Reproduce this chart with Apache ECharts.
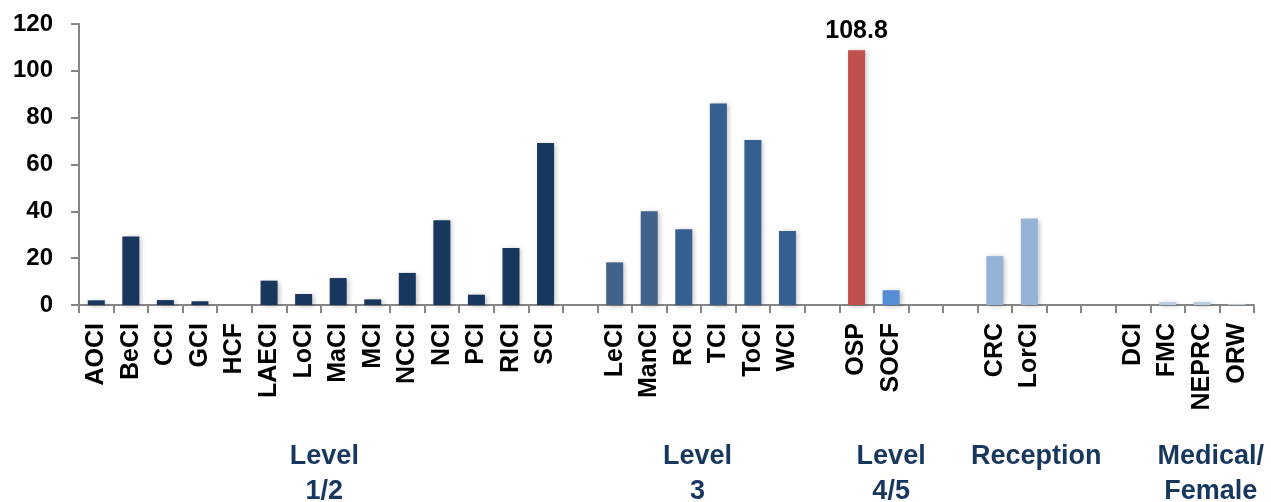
<!DOCTYPE html>
<html>
<head>
<meta charset="utf-8">
<title>Facility values by security level</title>
<script src="https://cdn.jsdelivr.net/npm/echarts@6/dist/echarts.min.js"></script>
<style>
  html, body { margin: 0; padding: 0; background: #ffffff; }
  #chart { width: 1271px; height: 502px; }
</style>
</head>
<body>
<div id="chart"></div>
<script>
// Facilities along the x axis; names starting with "_" are empty spacer slots between groups
const categories = [
  'AOCI', 'BeCI', 'CCI', 'GCI', 'HCF', 'LAECI', 'LoCI', 'MaCI', 'MCI', 'NCCI', 'NCI', 'PCI', 'RICI', 'SCI',
  '_a',
  'LeCI', 'ManCI', 'RCI', 'TCI', 'ToCI', 'WCI',
  '_b',
  'OSP', 'SOCF',
  '_c', '_d',
  'CRC', 'LorCI',
  '_e', '_f',
  'DCI', 'FMC', 'NEPRC', 'ORW'
];

const values = [
  2.0, 29.3, 2.1, 1.6, 0, 10.4, 4.7, 11.5, 2.4, 13.7, 36.2, 4.4, 24.3, 69.2,
  null,
  18.2, 40.0, 32.4, 86.1, 70.5, 31.6,
  null,
  108.8, 6.3,
  null, null,
  20.9, 36.9,
  null, null,
  0, 1.3, 1.3, 0.3
];

const barColors = [
  '#17375E', '#17375E', '#17375E', '#17375E', '#17375E', '#17375E', '#17375E',
  '#17375E', '#17375E', '#17375E', '#17375E', '#17375E', '#17375E', '#17375E',
  null,
  '#41628B', '#41628B', '#365F91', '#365F91', '#365F91', '#365F91',
  null,
  '#C0504D', '#558ED5',
  null, null,
  '#95B3D7', '#95B3D7',
  null, null,
  '#B9CDE5', '#B9CDE5', '#B9CDE5', '#D6E1EF'
];

// The one bar whose value is printed above it
const labelledBar = 'OSP';

// Group captions under the axis, anchored in category-slot units
const groupNames = ['Level\n1/2', 'Level\n3', 'Level\n4/5', 'Reception', 'Medical/\nFemale'];
const groupAnchors = [6.6, 17.4, 23.0, 27.2, 32.25];

const yTicks = { min: 0, max: 120, interval: 20 };

const FONT = '"Liberation Sans", Arial, sans-serif';
const AXIS_GREY = '#868686';

const seriesData = values.map(function (v, i) {
  if (v === null) return '-';
  const item = {
    value: v,
    itemStyle: { color: barColors[i] }
  };
  if (v === 0) {
    item.itemStyle.opacity = 0;
  }
  if (categories[i] === labelledBar) {
    item.label = {
      show: true,
      position: 'top',
      distance: 7,
      formatter: function (p) { return p.value.toFixed(1); },
      color: '#000000',
      fontFamily: FONT,
      fontWeight: 'bold',
      fontSize: 25
    };
  }
  return item;
});

const chart = echarts.init(document.getElementById('chart'), null, { renderer: 'canvas' });

chart.setOption({
  animation: false,
  backgroundColor: '#ffffff',
  grid: { left: 79, right: 17, top: 24, bottom: 197, containLabel: false },
  xAxis: {
    type: 'category',
    data: categories,
    boundaryGap: true,
    axisLine: { show: true, lineStyle: { color: AXIS_GREY, width: 2 } },
    axisTick: { show: true, interval: 0, length: 8, lineStyle: { color: AXIS_GREY, width: 2 } },
    axisLabel: {
      interval: 0,
      rotate: 90,
      margin: 18,
      color: '#000000',
      fontFamily: FONT,
      fontWeight: 'bold',
      fontSize: 25,
      formatter: function (name) { return name.charAt(0) === '_' ? '' : name; }
    },
    splitLine: { show: false }
  },
  yAxis: {
    type: 'value',
    min: yTicks.min,
    max: yTicks.max,
    interval: yTicks.interval,
    axisLine: { show: true, lineStyle: { color: AXIS_GREY, width: 2 } },
    axisTick: { show: true, length: 8, lineStyle: { color: AXIS_GREY, width: 2 } },
    axisLabel: {
      margin: 26,
      color: '#000000',
      fontFamily: FONT,
      fontWeight: 'bold',
      fontSize: 24
    },
    splitLine: { show: false }
  },
  series: [{
    type: 'bar',
    data: seriesData,
    barWidth: 17,
    itemStyle: {
      shadowColor: 'rgba(0, 0, 0, 0.25)',
      shadowBlur: 5,
      shadowOffsetX: 2,
      shadowOffsetY: 1
    }
  }]
});

// Place the group captions beneath the category labels
const px0 = chart.convertToPixel({ xAxisIndex: 0 }, 0);
const slot = chart.convertToPixel({ xAxisIndex: 0 }, 1) - px0;

chart.setOption({
  graphic: groupNames.map(function (name, i) {
    return {
      type: 'text',
      x: px0 + groupAnchors[i] * slot,
      y: 439,
      style: {
        text: name,
        fill: '#17375E',
        font: 'bold 27px ' + FONT,
        textAlign: 'center',
        textVerticalAlign: 'top',
        lineHeight: 35
      }
    };
  })
});
</script>
</body>
</html>
